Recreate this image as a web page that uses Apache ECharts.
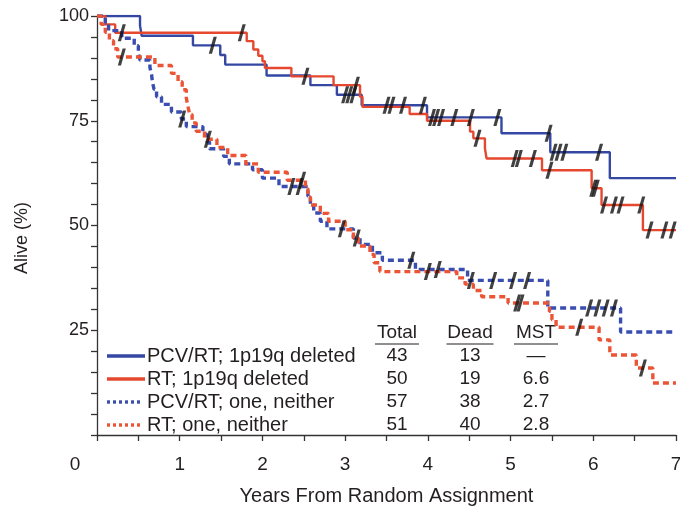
<!DOCTYPE html>
<html><head><meta charset="utf-8">
<script src="https://cdn.jsdelivr.net/npm/echarts@6/dist/echarts.min.js"></script>
<style>html,body{margin:0;padding:0;background:#fff}#c{width:680px;height:510px}</style>
</head><body><div id="c"></div>
<script>
// ---------- data ----------
const seriesNames = ['PCV/RT; 1p19q deleted', 'RT; 1p19q deleted', 'PCV/RT; one, neither', 'RT; one, neither'];
const totals = ['43', '50', '57', '51'];
const deads = ['13', '19', '38', '40'];
const msts = ['—', '6.6', '2.7', '2.8'];
const tableHeaders = ['Total', 'Dead', 'MST'];
const xTickLabels = ['1', '2', '3', '4', '5', '6', '7'];
const yTickLabels = ['25', '50', '75', '100'];

// Kaplan-Meier curves: [years, % alive]
const pcvDeleted = [[0,100],[0.52,97.7],[0.54,95.3],[1.16,93.0],[1.49,90.7],[1.55,88.4],[2.05,85.8],[2.58,83.5],[2.9,81.2],[3.2,78.7],[3.99,75.8],[4.89,72.0],[5.48,67.5],[6.2,61.3],[7.0,61.3]];
const rtDeleted = [[0,100],[0.1,98],[0.22,96],[1.81,94],[1.89,92],[1.95,90.5],[2.0,89.2],[2.03,87.6],[2.35,85.6],[2.86,83.5],[3.18,80.7],[3.21,78.3],[3.78,76.6],[3.99,75.0],[4.51,72.4],[4.55,70.8],[4.69,68.4],[4.71,66.0],[5.38,63.2],[5.98,58.9],[6.1,54.9],[6.6,48.9],[7.0,48.9]];
const pcvOther = [[0,100],[0.1,98.2],[0.14,96.5],[0.3,94.7],[0.45,92.9],[0.5,91.2],[0.52,89.5],[0.64,87.7],[0.66,86.0],[0.67,84.2],[0.69,82.5],[0.72,80.7],[0.78,78.9],[0.9,77.1],[1.02,75.4],[1.08,73.6],[1.28,71.8],[1.33,70.0],[1.36,68.3],[1.53,66.5],[1.6,64.7],[1.88,63.3],[2.0,61.3],[2.2,59.3],[2.55,57.0],[2.58,55.0],[2.62,53.0],[2.7,51.0],[2.78,49.2],[3.1,47.0],[3.18,45.5],[3.33,43.5],[3.45,41.7],[3.85,39.5],[4.48,36.9],[5.45,30.3],[6.33,24.6],[7.0,24.6]];
const rtOther = [[0,100],[0.05,98.0],[0.1,96.1],[0.15,94.1],[0.2,92.2],[0.25,90.2],[0.7,88.2],[0.9,86.3],[0.98,84.3],[1.03,82.4],[1.08,80.4],[1.1,78.4],[1.12,76.5],[1.15,74.5],[1.2,72.5],[1.3,70.6],[1.45,68.6],[1.58,66.7],[1.8,64.7],[1.95,62.7],[2.3,60.8],[2.52,58.8],[2.55,56.8],[2.58,54.9],[2.7,52.9],[2.8,51.0],[3.0,49.0],[3.1,47.0],[3.16,45.1],[3.3,43.1],[3.35,41.1],[3.42,39.0],[4.35,37.5],[4.45,36.0],[4.55,34.5],[4.65,33.0],[4.97,31.5],[5.47,29.5],[5.5,27.5],[5.55,25.7],[6.07,22.7],[6.2,19.1],[6.52,16.0],[6.72,12.4],[7.0,12.4]];

// censoring times (years)
const pcvDeletedCensor = [1.4,3.0,3.05,3.1,3.5,3.56,3.7,3.94,4.05,4.1,4.16,4.32,4.52,4.84,5.46,5.52,5.58,5.65,6.07];
const rtDeletedCensor = [0.3,1.75,2.52,3.13,4.6,5.05,5.1,5.27,5.47,6.0,6.03,6.13,6.25,6.33,6.58,6.68,6.86,6.96];
const pcvOtherCensor = [1.03,2.35,2.45,2.96,3.8,4.12,4.52,4.79,5.03,5.2,5.95,6.05,6.15,6.25];
const rtOtherCensor = [0.3,1.34,2.48,3.14,4.0,5.08,5.12,5.83,6.6];

// ---------- styling ----------
const FONT = '"Liberation Sans", Arial, Helvetica, sans-serif';
const TXT = '#231f20';
const BLUE = '#3447a3', RED = '#e5482f', BLUE_D = '#3a4db0', RED_D = '#ec5436';
const colors = [BLUE, RED, BLUE_D, RED_D];
const dotted = [false, false, true, true];
const curves = [pcvDeleted, rtDeleted, pcvOther, rtOther];
const censors = [pcvDeletedCensor, rtDeletedCensor, pcvOtherCensor, rtOtherCensor];

function stepValue(curve, t) {
  let v = curve[0][1];
  for (const p of curve) { if (p[0] <= t) v = p[1]; else break; }
  return v;
}

const series = [];
curves.forEach((c, i) => {
  series.push({
    name: seriesNames[i], type: 'line', step: 'end', data: c, showSymbol: false,
    lineStyle: { color: colors[i], width: dotted[i] ? 3.4 : 2.4, type: dotted[i] ? [6, 4] : 'solid' },
    z: 2, animation: false
  });
});
censors.forEach((cs, i) => {
  series.push({
    type: 'scatter', data: cs.map(t => [t, stepValue(curves[i], t)]),
    symbol: 'path://M0,20 L6,0 L10,0 L4,20 Z', symbolSize: [8, 17],
    itemStyle: { color: '#111' }, z: 5, animation: false, silent: true
  });
});

// legend table graphic
const rowY = [356, 379, 402, 425];
const colX = [397, 470, 536];
const graphic = [];
rowY.forEach((y, i) => {
  graphic.push({ type: 'line', shape: { x1: 107, y1: y, x2: dotted[i] ? 140 : 145, y2: y },
    style: { stroke: colors[i], lineWidth: 3.4, lineDash: dotted[i] ? [3, 3] : null } });
  graphic.push({ type: 'text', x: 147, y: y, style: { text: seriesNames[i], font: '20px ' + FONT, fill: TXT, verticalAlign: 'middle' } });
  [totals, deads, msts].forEach((arr, j) => {
    graphic.push({ type: 'text', x: colX[j], y: y, style: { text: arr[i], font: '19px ' + FONT, fill: TXT, align: 'center', verticalAlign: 'middle' } });
  });
});
tableHeaders.forEach((h, j) => {
  graphic.push({ type: 'text', x: colX[j], y: 333, style: { text: h, font: '19px ' + FONT, fill: TXT, align: 'center', verticalAlign: 'middle' } });
  const w = [44, 47, 44][j];
  graphic.push({ type: 'line', shape: { x1: colX[j] - w / 2, y1: 344, x2: colX[j] + w / 2, y2: 344 }, style: { stroke: TXT, lineWidth: 1.2 } });
});
graphic.push({ type: 'text', x: 75, y: 465, style: { text: '0', font: '19px ' + FONT, fill: TXT, align: 'center', verticalAlign: 'middle' } });
graphic.push({ type: 'text', x: 22, y: 238, rotation: Math.PI / 2, style: { text: 'Alive (%)', font: '18px ' + FONT, fill: TXT, align: 'center', verticalAlign: 'middle' } });

const chart = echarts.init(document.getElementById('c'), null, { renderer: 'canvas' });
chart.setOption({
  animation: false,
  backgroundColor: '#fff',
  grid: { left: 97, right: 4, top: 16, bottom: 75, containLabel: false, outerBoundsMode: 'none' },
  xAxis: {
    type: 'value', min: 0, max: 7, interval: 0.5,
    name: 'Years From Random Assignment', nameLocation: 'middle', nameGap: 51,
    nameTextStyle: { fontSize: 20, fontFamily: FONT, color: TXT },
    axisLine: { onZero: false, lineStyle: { color: '#333', width: 1.3 } },
    axisTick: { length: 6, lineStyle: { color: '#333', width: 1.3 } },
    axisLabel: { margin: 20, fontSize: 19, fontFamily: FONT, color: TXT,
      formatter: v => xTickLabels.includes(String(v)) ? String(v) : '' },
    splitLine: { show: false }
  },
  yAxis: {
    type: 'value', min: 0, max: 100, interval: 5,
    axisLine: { show: true, onZero: false, lineStyle: { color: '#333', width: 1.3 } },
    axisTick: { show: true, length: 6, lineStyle: { color: '#333', width: 1.3 } },
    axisLabel: { margin: 8, fontSize: 18, fontFamily: FONT, color: TXT,
      formatter: v => yTickLabels.includes(String(v)) ? String(v) : '' },
    splitLine: { show: false }
  },
  series: series,
  graphic: graphic
});
</script>
</body></html>
